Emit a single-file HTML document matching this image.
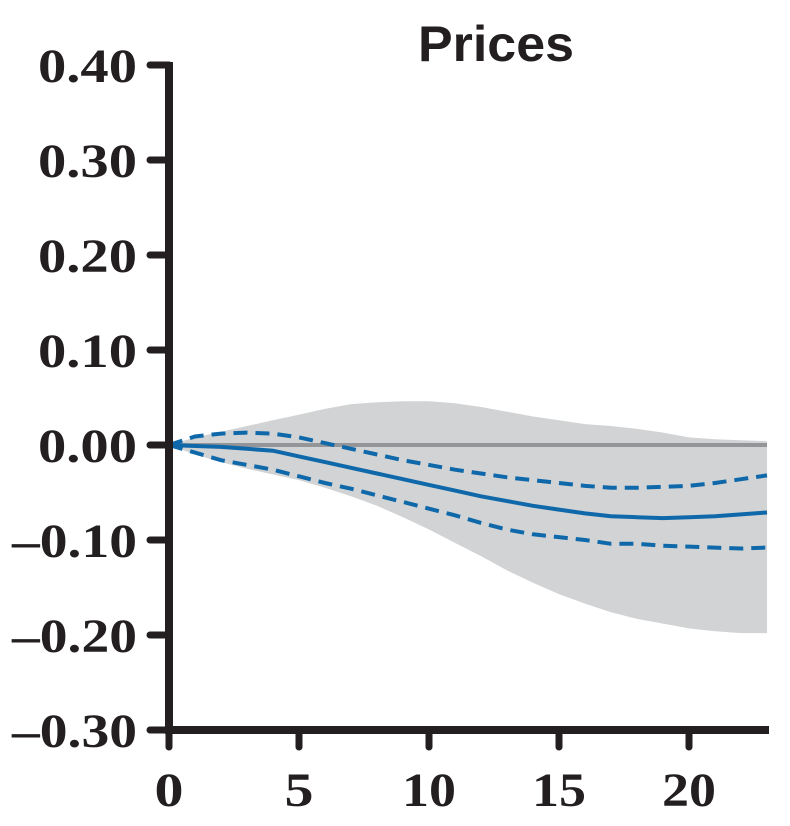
<!DOCTYPE html>
<html><head><meta charset="utf-8"><style>
body{margin:0;background:#fff;}
svg{display:block;}
</style></head><body>
<svg id="chart" width="790" height="826" xmlns="http://www.w3.org/2000/svg">
<text x="496" y="61" text-anchor="middle" font-family="Liberation Sans, sans-serif" font-weight="bold" font-size="50" fill="#231f20" textLength="156" lengthAdjust="spacingAndGlyphs">Prices</text>
<g id="plot"></g>
</svg>
<script>
const xs=[0,1,2,3,4,5,6,7,8,9,10,11,12,13,14,15,16,17,18,19,20,21,22,23];
const bandTop=[0,0.008,0.014,0.02,0.026,0.032,0.038,0.043,0.045,0.046,0.046,0.044,0.04,0.035,0.03,0.026,0.022,0.02,0.017,0.013,0.008,0.006,0.005,0.004];
const bandBottom=[0,-0.01,-0.018,-0.025,-0.031,-0.037,-0.045,-0.054,-0.064,-0.076,-0.089,-0.103,-0.117,-0.132,-0.145,-0.157,-0.167,-0.176,-0.183,-0.188,-0.193,-0.196,-0.198,-0.198];
const meanLine=[0,-0.001,-0.002,-0.004,-0.006,-0.012,-0.018,-0.024,-0.03,-0.036,-0.042,-0.048,-0.054,-0.059,-0.064,-0.068,-0.072,-0.075,-0.076,-0.077,-0.076,-0.075,-0.073,-0.071];
const upperDash=[0,0.009,0.012,0.013,0.012,0.008,0.002,-0.004,-0.01,-0.016,-0.021,-0.026,-0.03,-0.034,-0.037,-0.04,-0.043,-0.045,-0.045,-0.044,-0.043,-0.04,-0.036,-0.032];
const lowerDash=[0,-0.008,-0.016,-0.021,-0.026,-0.033,-0.04,-0.046,-0.053,-0.06,-0.067,-0.074,-0.082,-0.089,-0.094,-0.097,-0.1,-0.104,-0.104,-0.106,-0.107,-0.108,-0.109,-0.108];
const yTicks=[0.4,0.3,0.2,0.1,0,-0.1,-0.2,-0.3];
const yTickLabels=["0.40","0.30","0.20","0.10","0.00","–0.10","–0.20","–0.30"];
const xTicks=[0,5,10,15,20];

const NS="http://www.w3.org/2000/svg";
const g=document.getElementById('plot');
const X=v=>169+v*26;
const Y=v=>445-v*950;
function el(t,a){const e=document.createElementNS(NS,t);for(const k in a)e.setAttribute(k,a[k]);g.appendChild(e);return e;}
function pts(arr){return arr.map((v,i)=>X(xs[i])+','+Y(v)).join(' ');}

let band=el('polygon',{points:pts(bandTop)+' '+bandBottom.map((v,i)=>X(xs[i])+','+Y(v)).reverse().join(' '),fill:'#d1d3d4'});


let zl=el('line',{x1:X(0),x2:X(23),y1:Y(0),y2:Y(0),stroke:'#939598','stroke-width':4});


let up=el('polyline',{points:pts(upperDash),fill:'none',stroke:'#0f68a9','stroke-width':4,'stroke-dasharray':'14,8'});


let lo=el('polyline',{points:pts(lowerDash),fill:'none',stroke:'#0f68a9','stroke-width':4,'stroke-dasharray':'14,8'});


let mn=el('polyline',{points:pts(meanLine),fill:'none',stroke:'#0f68a9','stroke-width':4});



let ya=el('line',{x1:169,x2:169,y1:Y(0.4)-3,y2:Y(-0.3)+4,stroke:'#231f20','stroke-width':8});


let xa=el('line',{x1:165,x2:X(23)+2,y1:Y(-0.3),y2:Y(-0.3),stroke:'#231f20','stroke-width':8});



yTicks.forEach((v,i)=>{
  let t=el('line',{x1:150,x2:169,y1:Y(v),y2:Y(v),stroke:'#231f20','stroke-width':7,'stroke-linecap':'round'});
  
  
  const neg=yTickLabels[i].startsWith('–');
  let l=el('text',{x:137,y:Y(v)+17,'text-anchor':'end','font-family':'Liberation Serif, serif','font-weight':'bold','font-size':48,fill:'#231f20',textLength:neg?125:99,lengthAdjust:'spacingAndGlyphs'});
  l.textContent=yTickLabels[i];
  
  
});
xTicks.forEach(v=>{
  let t=el('line',{x1:X(v),x2:X(v),y1:Y(-0.3),y2:Y(-0.3)+17,stroke:'#231f20','stroke-width':7,'stroke-linecap':'round'});
  
  
  const s=String(v);
  let l=el('text',{x:X(v),y:806,'text-anchor':'middle','font-family':'Liberation Serif, serif','font-weight':'bold','font-size':48,fill:'#231f20',textLength:s.length>1?54:29,lengthAdjust:'spacingAndGlyphs'});
  l.textContent=s;
  
  
});
</script>
</body></html>
